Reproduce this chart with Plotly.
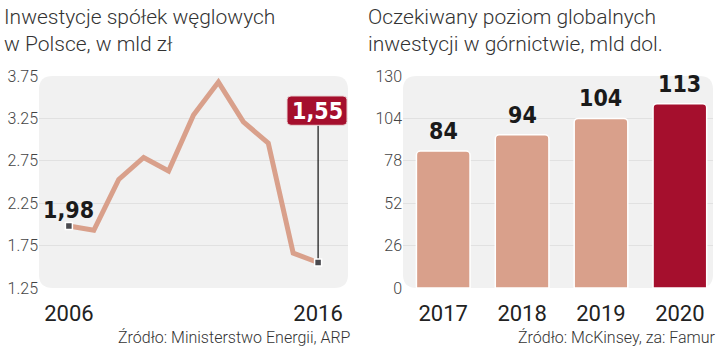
import plotly.graph_objects as go

# ---------------- data ----------------
line_years = [2006, 2007, 2008, 2009, 2010, 2011, 2012, 2013, 2014, 2015, 2016]
line_values = [1.98, 1.93, 2.53, 2.79, 2.63, 3.29, 3.68, 3.21, 2.96, 1.66, 1.55]
line_tick_years = [2006, 2016]
left_yticks = [1.25, 1.75, 2.25, 2.75, 3.25, 3.75]

bar_years = ["2017", "2018", "2019", "2020"]
bar_values = [84, 94, 104, 113]
right_yticks = [0, 26, 52, 78, 104, 130]

left_title = "Inwestycje spółek węglowych<br>w Polsce, w mld zł"
right_title = "Oczekiwany poziom globalnych<br>inwestycji w górnictwie, mld dol."
left_source = "Źródło: Ministerstwo Energii, ARP"
right_source = "Źródło: McKinsey, za: Famur"

# ---------------- styling ----------------
W, H = 720, 348
SALMON = "#d9a08b"
DARK_RED = "#a50f2d"
BG = "#f1f1f1"
GRID = "#e1e1e1"
TXT = "#333333"
LIGHT_FONT = "Roboto"
BOLD_FONT = "DejaVu Sans Condensed"


def px(x):
    return x / W


def py(y):
    return 1 - y / H


def rounded_rect(x0, y0, x1, y1, r):
    rx, ry = r / W, r / H
    X0, X1 = px(x0), px(x1)
    Y0, Y1 = py(y0), py(y1)  # Y0 top, Y1 bottom
    return (f"M {X0+rx},{Y0} L {X1-rx},{Y0} Q {X1},{Y0} {X1},{Y0-ry} "
            f"L {X1},{Y1+ry} Q {X1},{Y1} {X1-rx},{Y1} "
            f"L {X0+rx},{Y1} Q {X0},{Y1} {X0},{Y1+ry} "
            f"L {X0},{Y0-ry} Q {X0},{Y0} {X0+rx},{Y0} Z")


L_X0, L_X1 = 39, 348
R_X0, R_X1 = 403, 713
P_TOP, P_BOT = 71, 295
Y_LO, Y_HI = 1.25, 3.75

BOX_X0, BOX_X1, BOX_Y0, BOX_Y1 = 287, 347, 92, 123
# data value at the bottom edge of the highlight box (for the leader line)
box_bottom_val = Y_LO + (P_BOT - BOX_Y1) / (P_BOT - P_TOP) * (Y_HI - Y_LO)

fig = go.Figure()

# line chart
fig.add_trace(go.Scatter(
    x=line_years, y=line_values, mode="lines",
    line=dict(color=SALMON, width=5),
    xaxis="x", yaxis="y", hoverinfo="skip", showlegend=False,
))
fig.add_trace(go.Scatter(
    x=[line_years[-1], line_years[-1]], y=[line_values[-1], box_bottom_val],
    mode="lines", line=dict(color="#111111", width=1.2),
    xaxis="x", yaxis="y", hoverinfo="skip", showlegend=False,
))
fig.add_trace(go.Scatter(
    x=[line_years[0], line_years[-1]], y=[line_values[0], line_values[-1]],
    mode="markers",
    marker=dict(symbol="square", size=7, color="#4a4a4f",
                line=dict(color="white", width=1.5)),
    xaxis="x", yaxis="y", hoverinfo="skip", showlegend=False,
))

# bar chart
fig.add_trace(go.Bar(
    x=bar_years, y=bar_values,
    marker=dict(color=[SALMON] * (len(bar_values) - 1) + [DARK_RED],
                line=dict(color="white", width=1.5), cornerradius=4),
    width=0.68, xaxis="x2", yaxis="y2", hoverinfo="skip", showlegend=False,
))

tickfont = dict(family=LIGHT_FONT, size=16, color="#444444", weight=300)
yearfont = dict(family=LIGHT_FONT, size=22, color="#222222")

fig.update_layout(
    width=W, height=H,
    margin=dict(l=0, r=0, t=0, b=0),
    paper_bgcolor="white",
    plot_bgcolor="rgba(0,0,0,0)",
    font=dict(family=LIGHT_FONT, color=TXT),
    xaxis=dict(domain=[px(L_X0), px(L_X1)], range=[2004.8, 2017.2],
               tickvals=line_tick_years, ticktext=[str(v) for v in line_tick_years],
               tickfont=yearfont, showgrid=False, zeroline=False,
               showline=False, ticks="", anchor="y", ticklabelstandoff=10),
    yaxis=dict(domain=[py(P_BOT), py(P_TOP)], range=[Y_LO, Y_HI],
               tickvals=left_yticks, ticktext=[f"{v:.2f}" for v in left_yticks],
               tickfont=tickfont, showgrid=True, gridcolor=GRID, gridwidth=1,
               zeroline=False, showline=False, ticks="", anchor="x"),
    xaxis2=dict(domain=[px(R_X0), px(R_X1)], range=[-0.51, 3.42],
                type="category", tickfont=yearfont, showgrid=False,
                zeroline=False, showline=False, ticks="", anchor="y2",
                ticklabelstandoff=10),
    yaxis2=dict(domain=[py(P_BOT), py(P_TOP)], range=[0, 130],
                tickvals=right_yticks, tickfont=tickfont, showgrid=True,
                gridcolor=GRID, gridwidth=1, zeroline=False, showline=False,
                ticks="", anchor="x2"),
)

shapes = [
    dict(type="path", path=rounded_rect(L_X0, P_TOP, L_X1, P_BOT, 14),
         xref="paper", yref="paper", fillcolor=BG, line=dict(width=0), layer="below"),
    dict(type="path", path=rounded_rect(R_X0, P_TOP, R_X1, P_BOT, 14),
         xref="paper", yref="paper", fillcolor=BG, line=dict(width=0), layer="below"),
    # highlight box for last value
    dict(type="path", path=rounded_rect(BOX_X0, BOX_Y0, BOX_X1, BOX_Y1, 4),
         xref="paper", yref="paper", fillcolor=DARK_RED,
         line=dict(color="#ead6d6", width=1), layer="above"),
]
fig.update_layout(shapes=shapes)

annotations = [
    dict(text=left_title, x=px(2), y=1, xref="paper", yref="paper",
         xanchor="left", yanchor="top", align="left", showarrow=False, yshift=6,
         font=dict(family=LIGHT_FONT, size=21, color=TXT, weight=300)),
    dict(text=right_title, x=px(366), y=1, xref="paper", yref="paper",
         xanchor="left", yanchor="top", align="left", showarrow=False, yshift=6,
         font=dict(family=LIGHT_FONT, size=21, color=TXT, weight=300)),
    dict(text=left_source, x=px(353), y=py(347), xref="paper", yref="paper",
         xanchor="right", yanchor="middle", showarrow=False,
         font=dict(family=LIGHT_FONT, size=16, color=TXT, weight=300)),
    dict(text=right_source, x=px(718), y=py(347), xref="paper", yref="paper",
         xanchor="right", yanchor="middle", showarrow=False,
         font=dict(family=LIGHT_FONT, size=16, color=TXT, weight=300)),
    # first value label
    dict(text=f"{line_values[0]:.2f}".replace(".", ","), x=line_years[0], y=line_values[0],
         xref="x", yref="y", xanchor="center", yanchor="bottom", yshift=1,
         showarrow=False,
         font=dict(family=BOLD_FONT, size=23, color="#1a1a1a", weight="bold")),
    # last value label inside highlight box
    dict(text=f"{line_values[-1]:.2f}".replace(".", ","),
         x=px((BOX_X0 + BOX_X1) / 2), y=py((BOX_Y0 + BOX_Y1) / 2),
         xref="paper", yref="paper", xanchor="center", yanchor="middle",
         showarrow=False,
         font=dict(family=BOLD_FONT, size=23, color="white", weight="bold")),
]
for i, v in enumerate(bar_values):
    annotations.append(dict(
        text=str(v), x=i, y=v, xref="x2", yref="y2", xanchor="center",
        yanchor="bottom", yshift=5, showarrow=False,
        font=dict(family=BOLD_FONT, size=23, color="#1a1a1a", weight="bold")))

fig.update_layout(annotations=annotations)

fig.write_html("out.html")
